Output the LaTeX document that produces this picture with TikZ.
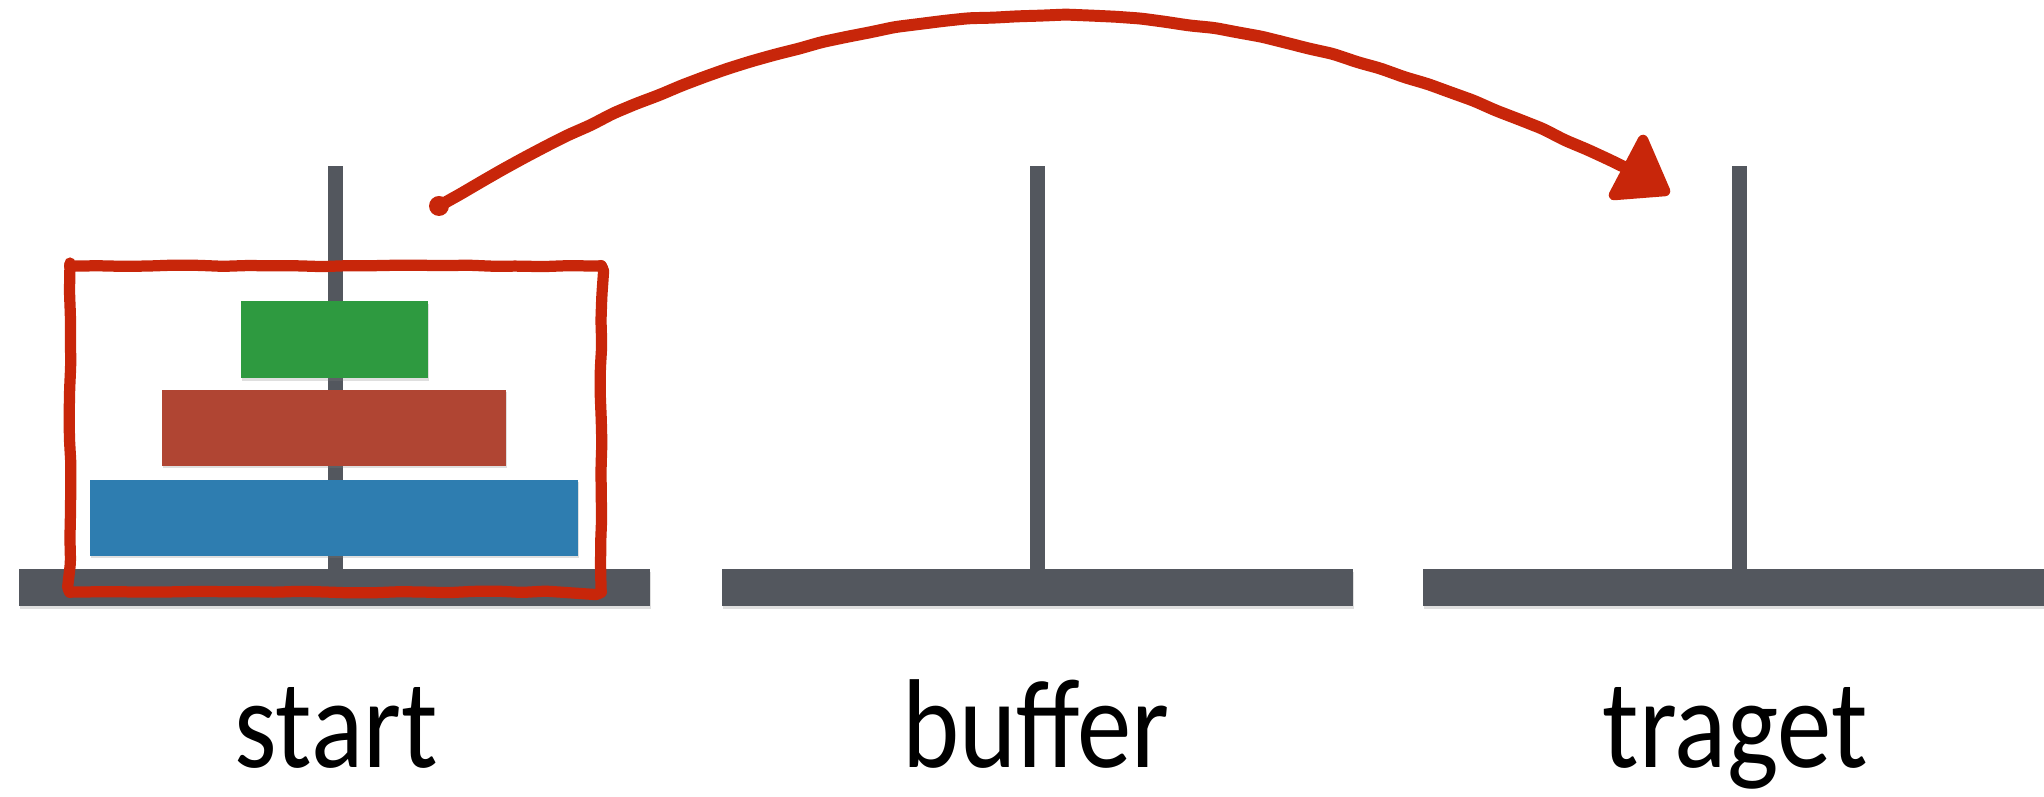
\documentclass[tikz,border=0pt]{standalone}
\usepackage{fontspec}
\usepackage{graphicx}
\setmainfont{Carlito}
\usetikzlibrary{shadows,decorations.pathmorphing}
\definecolor{polegray}{HTML}{53575E}
\definecolor{diskgreen}{HTML}{2E9A40}
\definecolor{diskred}{HTML}{B04533}
\definecolor{diskblue}{HTML}{2E7DB0}
\definecolor{penred}{HTML}{C8260A}
\newcommand{\narrowtext}[1]{\scalebox{0.86}[1]{#1}}
\tikzset{
  block/.style={inner sep=0pt, outer sep=0pt, draw=none, fill=#1,
    drop shadow={shadow xshift=0.4pt, shadow yshift=-0.6pt, opacity=0.25}},
  pole/.style={inner sep=0pt, outer sep=0pt, fill=polegray, minimum width=15*0.1mm, minimum height=404*0.1mm},
  base/.style={inner sep=0pt, outer sep=0pt, fill=polegray, minimum width=631*0.1mm, minimum height=37*0.1mm,
    drop shadow={shadow xshift=0.4pt, shadow yshift=-0.8pt, opacity=0.25}},
  lbl/.style={font=\fontsize{36}{42}\selectfont, inner sep=0pt, anchor=base},
  pen/.style={draw=penred, line width=3.2pt, line cap=round, line join=round},
  wobble/.style={decorate, decoration={random steps, segment length=7pt, amplitude=0.25pt}, rounded corners=1.5pt}
}
\begin{document}
\begin{tikzpicture}[x=0.1mm,y=-0.1mm]
\pgfmathsetseed{7}
\useasboundingbox (0,0) rectangle (2044,797);
% poles
\node[pole, anchor=north] (p1) at (335,166) {};
\node[pole, anchor=north] (p2) at (1037,166) {};
\node[pole, anchor=north] (p3) at (1739,166) {};
% bases
\node[base, anchor=north] (b1) at (334,569) {};
\node[base, anchor=north] (b2) at (1037,569) {};
\node[base, anchor=north west] (b3) at (1423,569) {};
% disks
\node[block=diskgreen, minimum width=187*0.1mm, minimum height=77*0.1mm] (dg) at (334,340) {};
\node[block=diskred, minimum width=344*0.1mm, minimum height=76*0.1mm] (dr) at (334,428) {};
\node[block=diskblue, minimum width=488*0.1mm, minimum height=76*0.1mm] (db) at (334,518) {};
% labels
\node[lbl] (ls) at (336,768) {\narrowtext{start}};
\node[lbl] (lb) at (1036,768) {\narrowtext{buffer}};
\node[lbl] (lt) at (1735,768) {\narrowtext{traget}};
% hand drawn selection box
\coordinate (c1) at (70,266);
\coordinate (c2) at (601,266);
\coordinate (c3) at (601,592);
\coordinate (c4) at (70,592);
\draw[pen, wobble] (c1) -- (c2) -- (c3) -- (c4) -- cycle;
\fill[penred] (c1) circle (6) (c2) circle (6) (c3) circle (6) (c4) circle (6);
% hand drawn arrow
\coordinate (a0) at (439,206);
\coordinate (a1) at (1630,170);
\coordinate (tipA) at (1643,140);
\coordinate (tipB) at (1614,195);
\coordinate (tipC) at (1665,191);
\fill[penred] (a0) circle (10);
\draw[pen, line width=3.4pt, wobble] (a0) .. controls (871,-54) and (1221,-30) .. (a1);
\filldraw[penred, line width=3pt, line join=round] (tipA) -- (tipC) -- (tipB) -- cycle;
\end{tikzpicture}
\end{document}
